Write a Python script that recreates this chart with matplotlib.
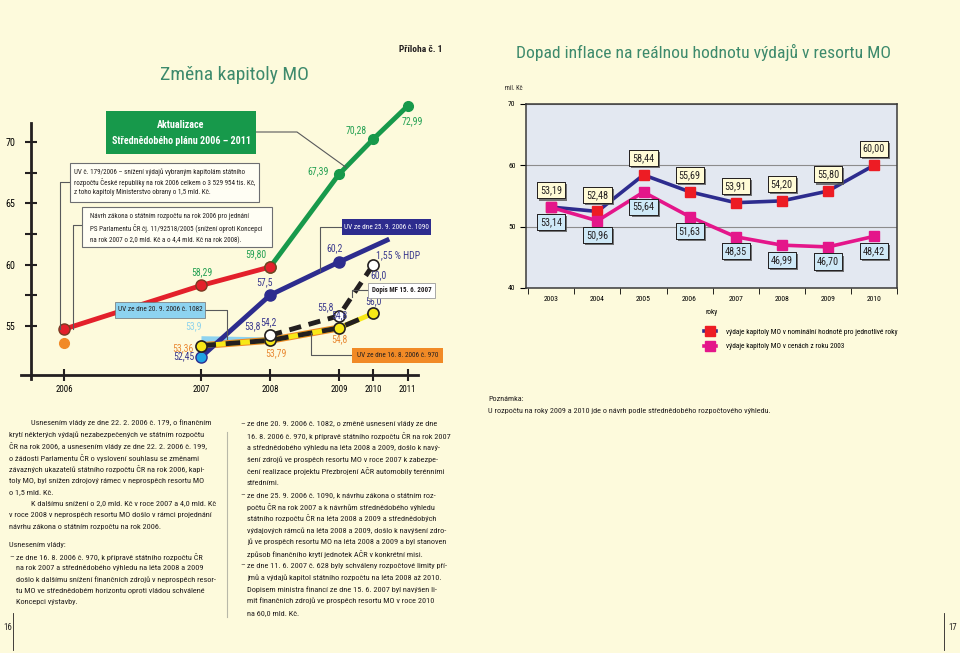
import matplotlib
matplotlib.use('Agg')
import matplotlib.pyplot as plt
import matplotlib.patheffects as pe
import matplotlib.font_manager as fm
from matplotlib.lines import Line2D
from matplotlib.patches import Rectangle

# úzké písmo, pokud je nějaké k dispozici
uzke = None
for f in fm.fontManager.ttflist:
    if f.name in ('Liberation Sans Narrow', 'Roboto Condensed', 'Open Sans Condensed',
                  'Noto Sans Condensed', 'DejaVu Sans Condensed'):
        uzke = (f.name, 'normal')
        break
if uzke is None:
    for jmeno in ['Noto Sans', 'Roboto', 'Open Sans', 'DejaVu Sans', 'Liberation Sans']:
        if any(f.name == jmeno and f.stretch != 'normal' for f in fm.fontManager.ttflist):
            uzke = (jmeno, 'condensed')
            break
if uzke is None:
    uzke = ('DejaVu Sans', 'normal')
plt.rcParams['font.family'] = [uzke[0], 'DejaVu Sans']
plt.rcParams['font.stretch'] = uzke[1]

W, H = 960, 653
BG = '#fdfadc'

# levý graf - Změna kapitoly MO (mld. Kč)
roky_vlevo = ['2006', '2007', '2008', '2009', '2010', '2011']
poz_roku = [0, 4, 6, 8, 9, 10]          # roky nejsou v originále rozmístěny rovnoměrně

puvodni_x = [0, 4, 6]
puvodni = [54.7, 58.29, 59.80]
aktualizace_x = [6, 8, 9, 10]
aktualizace = [59.80, 67.39, 70.28, 72.99]
uv970_x = [4, 6, 8]
uv970 = [53.36, 53.79, 54.8]
uv970_2006 = 53.6
limity_x = [4, 6, 8, 9]
limity = [53.36, 53.79, 54.8, 56.0]
uv1082_x = [4, 6]
uv1082 = [53.9, 53.8]
uv1090_x = [4, 6, 8, 9.4]
uv1090 = [52.45, 57.5, 60.2, 62.0]
dopis_x = [6, 8, 9]
dopis = [54.2, 55.8, 60.0]

# pravý graf - Dopad inflace
roky_vpravo = ['2003', '2004', '2005', '2006', '2007', '2008', '2009', '2010']
nominalni = [53.19, 52.48, 58.44, 55.69, 53.91, 54.20, 55.80, 60.00]
ceny_2003 = [53.14, 50.96, 55.64, 51.63, 48.35, 46.99, 46.70, 48.42]

ZELENA = '#17994b'
CERVENA = '#e3202b'
MODRA = '#2d2c8e'
SVETLE_MODRA = '#8dd3f0'
ORANZOVA = '#f18a26'
ZLUTA = '#f7e817'
RUZOVA = '#e4168a'


def fx(x):
    return x / W


def fy(y):
    return 1 - y / H


fig = plt.figure(figsize=(9.6, 6.53), dpi=100, facecolor=BG)
R = fig.canvas.get_renderer()


def sirka(s, fs, **kw):
    t = fig.text(0, 0, s, fontsize=fs, **kw)
    w = t.get_window_extent(renderer=R).width
    t.remove()
    return w


def fit(s, cil, strop=20, **kw):
    # velikost písma, při které má text v originále danou šířku (px)
    return min(strop, 10 * cil / sirka(s, 10, **kw))


fs_telo = min(fit('krytí některých výdajů nezabezpečených ve státním rozpočtu', 204, 8),
              fit('16. 8. 2006 č. 970, k přípravě státního rozpočtu ČR na rok 2007', 203, 8))
fs_ramec = fit('rozpočtu České republiky na rok 2006 celkem o 3 529 954 tis. Kč,', 180, 6.5)
fs_zeleny = fit('Střednědobého plánu 2006 – 2011', 138, 10, fontweight='bold')
fs_maly = fit('UV ze dne 20. 9. 2006 č. 1082', 84, 7)
fs_dopis = fit('Dopis MF 15. 6. 2007', 60, 7, fontweight='bold')
fs_nadpis = fit('Dopad inflace na reálnou hodnotu výdajů v resortu MO', 372, 16)
fs_nadpis2 = fit('Změna kapitoly MO', 148, 17)
fs_legenda = fit('výdaje kapitoly MO v nominální hodnotě pro jednotlivé roky', 169, 7)
fs_pozn = fit('U rozpočtu na roky 2009 a 2010 jde o návrh podle střednědobého rozpočtového výhledu.',
              280, 7.5)
fs_cislo = fit('58,29', 21, 9)
fs_stitek = fit('53,19', 22, 9)
fs_osa = fit('2003', 15, 7.5)
fs_osa_vlevo = fit('2006', 17, 8.5)
fs_priloha = fit('Příloha č. 1', 43, 7.5, fontweight='bold')


def ftext(x, y, s, **kw):
    kw.setdefault('fontsize', fs_telo)
    kw.setdefault('color', '#231f20')
    kw.setdefault('va', 'center')
    fig.text(fx(x), fy(y), s, zorder=4, **kw)


def box(x0, y0, x1, y1, fc, ec='none', lw=0.8):
    fig.add_artist(Rectangle((fx(x0), fy(y1)), fx(x1) - fx(x0), fy(y0) - fy(y1),
                             transform=fig.transFigure, fc=fc, ec=ec, lw=lw, zorder=3))


def leader(pts, barva='#58595b', lw=0.8):
    fig.add_artist(Line2D([fx(p[0]) for p in pts], [fy(p[1]) for p in pts],
                          transform=fig.transFigure, color=barva, lw=lw, zorder=2.5))


def na_px(ax, x, y):
    dx, dy = ax.transData.transform((x, y))
    return dx, H - dy


# ---------------- levý graf ----------------
ax1 = fig.add_axes([fx(21), fy(375), (418 - 21) / W, (375 - 93.6) / H])
ax1.set_facecolor('none')
ax1.set_xlim(-1.25, 10.3)
ax1.set_ylim(50.95, 74.0)
for s in ['top', 'right']:
    ax1.spines[s].set_visible(False)
ax1.spines['left'].set_position(('data', -0.96))
ax1.spines['left'].set_bounds(50.6, 71.6)
for s in ['left', 'bottom']:
    ax1.spines[s].set_linewidth(2)
    ax1.spines[s].set_color('#231f20')
ax1.set_xticks(poz_roku)
ax1.set_xticklabels(roky_vlevo)
ax1.set_yticks([55, 57.5, 60, 62.5, 65, 67.5, 70])
ax1.set_yticklabels(['55', '', '60', '', '65', '', '70'])
ax1.tick_params(direction='inout', length=9, width=1.5, color='#231f20',
                labelsize=fs_osa_vlevo, pad=3)
ax1.tick_params(axis='y', pad=7, labelsize=fs_osa_vlevo * 1.15)

ax1.plot(puvodni_x, puvodni, color=CERVENA, lw=3.5, marker='o', ms=8,
         mfc=CERVENA, mec='#7a3a22', mew=1, zorder=3)
ax1.plot(aktualizace_x, aktualizace, color=ZELENA, lw=3.5, zorder=3)
ax1.plot(aktualizace_x[1:], aktualizace[1:], 'o', color=ZELENA, ms=7, zorder=4)
ax1.plot(puvodni_x[-1:], puvodni[-1:], 'o', ms=8, mfc=CERVENA, mec='#6b4a22', zorder=5)
ax1.plot([0], [uv970_2006], 'o', ms=7, color=ORANZOVA, zorder=3)
ax1.plot(uv1082_x, uv1082, color=SVETLE_MODRA, lw=4, solid_capstyle='butt', zorder=3)
ax1.plot(uv970_x, uv970, color=ORANZOVA, lw=5, solid_capstyle='butt', zorder=3)
ax1.plot(uv1090_x, uv1090, color=MODRA, lw=3.5, zorder=4)
ax1.plot(uv1090_x[1:3], uv1090[1:3], 'o', ms=8, color=MODRA, zorder=5)
ax1.plot(uv1090_x[:1], uv1090[:1], 'o', ms=8, mfc='#1fa3e3', mec=MODRA, zorder=6)
ax1.plot(limity_x, limity, color=ZLUTA, lw=3.5, zorder=5)
ax1.plot(limity_x, limity, color='#231f20', lw=3.5, dashes=(3, 2), zorder=5)
ax1.plot(limity_x, limity, 'o', ms=8, mfc=ZLUTA, mec='#231f20', mew=1.2, zorder=6)
ax1.plot(dopis_x, dopis, color='#231f20', lw=3.5, dashes=(2.5, 1.6), zorder=5)
ax1.plot(dopis_x, dopis, 'o', ms=8, mfc='white', mec='#231f20', mew=1.2, zorder=6)


def popis(x, y, txt, barva, dx, dy):
    ax1.annotate(txt, (x, y), xytext=(dx, dy), textcoords='offset points',
                 ha='center', va='center', color=barva, fontsize=fs_cislo, zorder=7)


G, B, O, LB = '#23a052', '#3b3a8e', '#e98a35', '#8fd3ec'
popis(4, puvodni[1], '58,29', G, 0, 9.5)
popis(6, puvodni[2], '59,80', G, -10, 9)
popis(8, aktualizace[1], '67,39', G, -15, 2)
popis(9, aktualizace[2], '70,28', G, -12, 6)
popis(10, aktualizace[3], '72,99', G, 3, -11)
popis(6, uv1090[1], '57,5', B, -4, 9.5)
popis(8, uv1090[2], '60,2', B, -3, 10)
popis(9, dopis[2], '1,55 % HDP', B, 18, 6.5)
popis(9, dopis[2], '60,0', B, 4, -8)
popis(8, dopis[1], '55,8', B, -10, 6)
popis(6, dopis[0], '54,2', B, -1, 9.5)
popis(6, uv1082[1], '53,8', B, -13, 10)
popis(8, limity[2], '54,8', B, 0, 9.5)
popis(9, limity[3], '56,0', B, 0, 9)
popis(8, uv970[2], '54,8', O, 0, -8)
popis(6, uv970[1], '53,79', O, 4, -9.5)
popis(4, uv1082[0], '53,9', LB, -6, 9)
popis(4, uv1090[0], '52,45', B, -13, 0)
popis(4, uv970[0], '53,36', O, -13, -2)

# rámečky s komentáři
box(106, 111, 256, 154, ZELENA)
ftext(181, 125, 'Aktualizace', color='white', fontsize=fs_zeleny, fontweight='bold', ha='center')
ftext(181, 141, 'Střednědobého plánu 2006 – 2011', color='white', fontsize=fs_zeleny,
      fontweight='bold', ha='center')

box(70, 163, 259, 202, '#fffef4', ec='#6d6e71')
for i, t in enumerate(['UV č. 179/2006 – snížení výdajů vybraným kapitolám státního',
                       'rozpočtu České republiky na rok 2006 celkem o 3 529 954 tis. Kč,',
                       'z toho kapitoly Ministerstvo obrany o 1,5 mld. Kč.']):
    ftext(74, 172 + 10.5 * i, t, fontsize=fs_ramec)

box(82, 207, 272, 247, '#fffef4', ec='#6d6e71')
for i, t in enumerate(['Návrh zákona o státním rozpočtu na rok 2006 pro jednání',
                       'PS Parlamentu ČR čj. 11/92518/2005 (snížení oproti Koncepci',
                       'na rok 2007 o 2,0 mld. Kč a o 4,4 mld. Kč na rok 2008).']):
    ftext(90, 217 + 11.5 * i, t, fontsize=fs_ramec)

box(115, 302, 205, 318, SVETLE_MODRA, ec='#6d6e71', lw=0.5)
ftext(160, 310, 'UV ze dne 20. 9. 2006 č. 1082', fontsize=fs_maly, ha='center')
box(342, 219, 431, 235, MODRA)
ftext(386.5, 227, 'UV ze dne 25. 9. 2006 č. 1090', fontsize=fs_maly, ha='center', color='white')
box(368, 283, 435, 298, 'white', ec='#9a9a9a', lw=0.6)
ftext(401.5, 290.5, 'Dopis MF 15. 6. 2007', fontsize=fs_dopis, ha='center', fontweight='bold')
box(352, 348, 443, 363, ORANZOVA)
ftext(397.5, 355.5, 'UV ze dne 16. 8. 2006 č. 970', fontsize=fs_maly, ha='center')

# odkazové čáry
tx, ty = na_px(ax1, -0.12, puvodni[0])
leader([(70, 182), (tx, 182), (tx, ty)])
tx, ty = na_px(ax1, 0.25, puvodni[0])
leader([(82, 225), (tx, 225), (tx, ty)])
tx, ty = na_px(ax1, 8.2, 67.97)
leader([(256, 132), (297, 132), (tx, ty)])
tx, ty = na_px(ax1, 4.75, 53.86)
leader([(205, 310), (tx, 310), (tx, ty)])
tx, ty = na_px(ax1, 7.45, 59.45)
leader([(342, 227), (tx, 227), (tx, ty)])
tx, ty = na_px(ax1, 8.37, 57.35)
leader([(368, 290), (tx, 290), (tx, ty)])
tx, ty = na_px(ax1, 7.2, 54.39)
leader([(352, 355), (tx, 355), (tx, ty)])

# ---------------- pravý graf ----------------
ax2 = fig.add_axes([fx(526), fy(288), (897 - 526) / W, (288 - 104) / H])
ax2.set_facecolor('#e3e8f1')
x = range(len(roky_vpravo))
ax2.plot(x, nominalni, color=MODRA, lw=2.6, marker='s', ms=6.5, mfc='#ed1c24', mec='#ed1c24',
         label='výdaje kapitoly MO v nominální hodnotě pro jednotlivé roky', zorder=3)
ax2.plot(x, ceny_2003, color=RUZOVA, lw=2.6, marker='s', ms=6.5, mfc=RUZOVA, mec=RUZOVA,
         label='výdaje kapitoly MO v cenách z roku 2003', zorder=3)
ax2.set_xlim(-0.55, 7.47)
ax2.set_ylim(40, 70)
ax2.set_yticks([40, 50, 60, 70])
ax2.set_xticks(list(x))
ax2.set_xticklabels(roky_vpravo)
ax2.set_xticks([i + 0.5 for i in range(-1, 8)], minor=True)
ax2.tick_params(axis='x', which='major', length=0, labelsize=fs_osa, pad=6)
ax2.tick_params(axis='x', which='minor', length=4, direction='out')
ax2.tick_params(axis='y', length=4, direction='out', labelsize=fs_osa)
ax2.grid(axis='y', color='#8c8c8c', lw=0.8)
ax2.set_axisbelow(True)
for s in ax2.spines.values():
    s.set_color('#3a3a3a')
    s.set_linewidth(1.1)
ax2.set_xlabel('roky', fontsize=fs_osa * 0.95, labelpad=5)


def stitek(i, v, fc, dy):
    t = ax2.annotate(f'{v:.2f}'.replace('.', ','), (i, v), xytext=(0, dy),
                     textcoords='offset points', ha='center', va='center', fontsize=fs_stitek,
                     color='#231f20', zorder=5,
                     bbox=dict(boxstyle='square,pad=0.3', fc=fc, ec='#231f20', lw=0.7))
    t.get_bbox_patch().set_path_effects([pe.withSimplePatchShadow(offset=(1.5, -1.5),
                                                                  shadow_rgbFace='#555555',
                                                                  alpha=0.8), pe.Normal()])


for i, v in enumerate(nominalni):
    stitek(i, v, '#fffbd6', 12)
for i, v in enumerate(ceny_2003):
    stitek(i, v, '#cfe9f7', -10.5)

fig.legend(loc='upper left', bbox_to_anchor=(fx(697), fy(322)), frameon=False,
           fontsize=fs_legenda, handlelength=1.7, labelspacing=1.0, handletextpad=1.4)

# ---------------- nadpisy a texty ----------------
ftext(234, 75, 'Změna kapitoly MO', fontsize=fs_nadpis2, color='#3d8a6c', ha='center')
ftext(704, 52, 'Dopad inflace na reálnou hodnotu výdajů v resortu MO', fontsize=fs_nadpis,
      color='#3d8a6c', ha='center')
ftext(421, 50, 'Příloha č. 1', fontsize=fs_priloha, ha='center', fontweight='bold')
ftext(505, 88, 'mil. Kč', fontsize=fs_osa * 0.85)

ftext(488, 399, 'Poznámka:', fontsize=fs_pozn)
ftext(488, 411, 'U rozpočtu na roky 2009 a 2010 jde o návrh podle střednědobého '
      'rozpočtového výhledu.', fontsize=fs_pozn)

levy_sloupec = [
    (31, 'Usnesením vlády ze dne 22. 2. 2006 č. 179, o finančním'),
    (9, 'krytí některých výdajů nezabezpečených ve státním rozpočtu'),
    (9, 'ČR na rok 2006, a usnesením vlády ze dne 22. 2. 2006 č. 199,'),
    (9, 'o žádosti Parlamentu ČR o vyslovení souhlasu se změnami'),
    (9, 'závazných ukazatelů státního rozpočtu ČR na rok 2006, kapi-'),
    (9, 'toly MO, byl snížen zdrojový rámec v neprospěch resortu MO'),
    (9, 'o 1,5 mld. Kč.'),
    (31, 'K dalšímu snížení o 2,0 mld. Kč v roce 2007 a 4,0 mld. Kč'),
    (9, 'v roce 2008 v neprospěch resortu MO došlo v rámci projednání'),
    (9, 'návrhu zákona o státním rozpočtu na rok 2006.'),
]
for i, (x0, t) in enumerate(levy_sloupec):
    ftext(x0, 423 + 11.5 * i, t)

usneseni = [
    'ze dne 16. 8. 2006 č. 970, k přípravě státního rozpočtu ČR',
    'na rok 2007 a střednědobého výhledu na léta 2008 a 2009',
    'došlo k dalšímu snížení finančních zdrojů v neprospěch resor-',
    'tu MO ve střednědobém horizontu oproti vládou schválené',
    'Koncepci výstavby.',
]
ftext(9, 545, 'Usnesením vlády:')
ftext(9, 557, '–')
for i, t in enumerate(usneseni):
    ftext(16, 557 + 11.3 * i, t)

prostredni = [
    (True, 'ze dne 20. 9. 2006 č. 1082, o změně usnesení vlády ze dne'),
    (False, '16. 8. 2006 č. 970, k přípravě státního rozpočtu ČR na rok 2007'),
    (False, 'a střednědobého výhledu na léta 2008 a 2009, došlo k navý-'),
    (False, 'šení zdrojů ve prospěch resortu MO v roce 2007 k zabezpe-'),
    (False, 'čení realizace projektu Přezbrojení AČR automobily terénními'),
    (False, 'středními.'),
    (True, 'ze dne 25. 9. 2006 č. 1090, k návrhu zákona o státním roz-'),
    (False, 'počtu ČR na rok 2007 a k návrhům střednědobého výhledu'),
    (False, 'státního rozpočtu ČR na léta 2008 a 2009 a střednědobých'),
    (False, 'výdajových rámců na léta 2008 a 2009, došlo k navýšení zdro-'),
    (False, 'jů ve prospěch resortu MO na léta 2008 a 2009 a byl stanoven'),
    (False, 'způsob finančního krytí jednotek AČR v konkrétní misi.'),
    (True, 'ze dne 11. 6. 2007 č. 628 byly schváleny rozpočtové limity pří-'),
    (False, 'jmů a výdajů kapitol státního rozpočtu na léta 2008 až 2010.'),
    (False, 'Dopisem ministra financí ze dne 15. 6. 2007 byl navýšen li-'),
    (False, 'mit finančních zdrojů ve prospěch resortu MO v roce 2010'),
    (False, 'na 60,0 mld. Kč.'),
]
for i, (pomlcka, t) in enumerate(prostredni):
    y = 424 + 11.8 * i
    if pomlcka:
        ftext(240, y, '–')
    ftext(247, y, t)

leader([(227, 432), (227, 617)], '#b8b8a8')
leader([(13, 613), (13, 650)], '#231f20', 0.6)
leader([(944, 613), (944, 650)], '#231f20', 0.6)
ftext(3, 628, '16', fontsize=fs_osa_vlevo)
ftext(948, 628, '17', fontsize=fs_osa_vlevo)

fig.savefig('out.png', dpi=100, facecolor=BG)
